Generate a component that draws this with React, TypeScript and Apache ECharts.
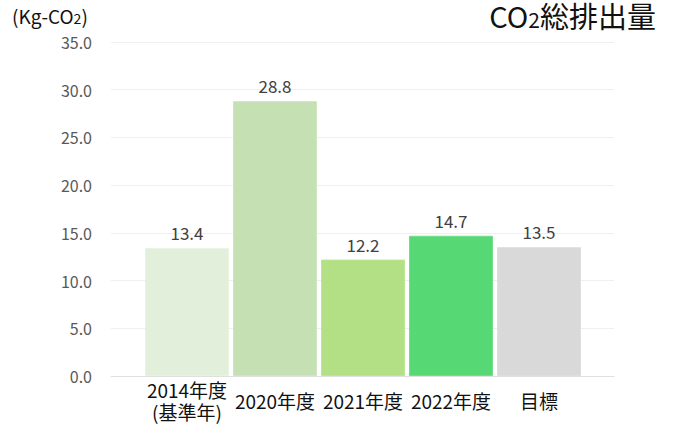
import React, { useEffect, useRef } from "react";
import * as echarts from "echarts";

const categories = ["2014年度\n(基準年)", "2020年度", "2021年度", "2022年度", "目標"];
const values = [13.4, 28.8, 12.2, 14.7, 13.5];
const barColors = ["#e2efda", "#c5e0b3", "#b3df85", "#56d874", "#d9d9d9"];
const barBorders = ["#e8f3e2", "#cee6be", "#bee497", "#72de8a", "#dedede"];
const yMin = 0;
const yMax = 35;
const yInterval = 5;
const titleParts = ["CO", "2", "総排出量"];
const unitParts = ["(Kg-CO", "2", ")"];

const FONT = "'Noto Sans CJK JP', 'Noto Sans', sans-serif";

export default function App() {
  const ref = useRef<HTMLDivElement>(null);
  useEffect(() => {
    if (!ref.current) return;
    const chart = echarts.init(ref.current, null, { renderer: "svg" });
    chart.setOption({
      animation: false,
      backgroundColor: "#ffffff",
      textStyle: { fontFamily: FONT },
      grid: [
        { left: 143, right: 90, top: 42, bottom: 51 },
        { left: 111, right: 59, top: 42, bottom: 51 },
      ],
      xAxis: [
        {
          type: "category",
          gridIndex: 0,
          data: categories,
          axisLine: { show: false },
          axisTick: { show: false },
          axisLabel: {
            margin: 24,
            verticalAlign: "middle",
            fontSize: 19,
            lineHeight: 22,
            color: "#111111",
            fontFamily: FONT,
            interval: 0,
          },
        },
        {
          type: "value",
          gridIndex: 1,
          min: 0,
          max: 1,
          axisLine: { show: true, lineStyle: { color: "#e0e0e0", width: 1 } },
          axisTick: { show: false },
          axisLabel: { show: false },
          splitLine: { show: false },
        },
      ],
      yAxis: [
        {
          type: "value",
          gridIndex: 0,
          min: yMin,
          max: yMax,
          interval: yInterval,
          show: false,
          splitLine: { show: false },
        },
        {
          type: "value",
          gridIndex: 1,
          min: yMin,
          max: yMax,
          interval: yInterval,
          axisLine: { show: false },
          axisTick: { show: false },
          axisLabel: {
            margin: 19,
            fontSize: 16,
            color: "#595959",
            fontFamily: FONT,
            formatter: (v: number) => v.toFixed(1),
          },
          splitLine: { show: true, lineStyle: { color: "#efefef", width: 1 } },
        },
      ],
      graphic: [
        {
          type: "text",
          left: 12,
          top: 6,
          style: {
            text: `{n|${unitParts[0]}}{s|${unitParts[1]}}{n|${unitParts[2]}}`,
            fill: "#111111",
            fontFamily: FONT,
            rich: {
              n: { fontSize: 19, fontFamily: FONT, fill: "#111111", verticalAlign: "bottom", lineHeight: 24 },
              s: { fontSize: 14, fontFamily: FONT, fill: "#111111", verticalAlign: "bottom", lineHeight: 22 },
            },
          },
        },
        {
          type: "text",
          right: 17,
          top: 0,
          style: {
            text: `{n|${titleParts[0]}}{s|${titleParts[1]}}{n|${titleParts[2]}}`,
            fill: "#111111",
            fontFamily: FONT,
            rich: {
              n: { fontSize: 29, fontFamily: FONT, fill: "#111111", verticalAlign: "bottom", lineHeight: 27 },
              s: { fontSize: 21, fontFamily: FONT, fill: "#111111", verticalAlign: "bottom", lineHeight: 24 },
            },
          },
        },
      ],
      series: [
        {
          type: "bar",
          xAxisIndex: 0,
          yAxisIndex: 0,
          barWidth: 84,
          data: values.map((v, i) => ({
            value: v,
            itemStyle: { color: barColors[i], borderColor: barBorders[i], borderWidth: 1 },
          })),
          label: {
            show: true,
            position: "top",
            distance: 7,
            fontSize: 17,
            color: "#404040",
            fontFamily: FONT,
            formatter: (p: any) => Number(p.value).toFixed(1),
          },
        },
      ],
    });
    return () => chart.dispose();
  }, []);
  return (
    <div
      ref={ref}
      style={{ position: "fixed", left: 0, top: 0, width: 673, height: 427 }}
    />
  );
}
